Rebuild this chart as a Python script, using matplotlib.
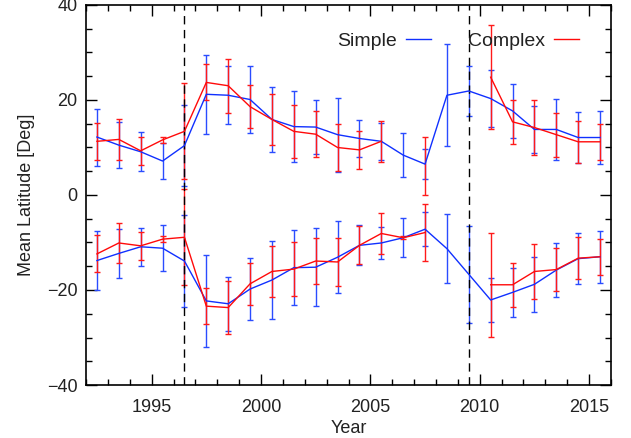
import numpy as np
import matplotlib
matplotlib.use('Agg')
import matplotlib.pyplot as plt
from matplotlib.ticker import MultipleLocator

plt.rcParams['font.family'] = ['Liberation Sans', 'DejaVu Sans']

nan = np.nan
years = np.arange(1992.5, 2016.0, 1.0)

# northern hemisphere, simple / complex
simple_n = [12.2, 10.5, 9.1, 7.15, 10.4, 21.2, 21.0, 20.1, 15.9, 14.4, 14.3, 12.7,
            11.9, 11.3, 8.4, 6.5, 21.0, 21.9, 20.3, 17.7, 13.8, 13.8, 12.1, 12.1]
simple_n_err = [6.0, 4.8, 4.1, 3.8, 8.6, 8.3, 6.1, 7.0, 6.9, 7.4, 5.7, 7.8,
                3.8, 3.9, 4.7, 3.2, 10.7, 5.3, 6.0, 5.7, 5.0, 6.5, 5.4, 5.6]
complex_n = [11.3, 11.7, 9.3, 11.6, 13.4, 23.7, 23.0, 18.6, 15.9, 13.4, 12.8, 10.0,
             9.5, 11.3, nan, 6.1, nan, nan, 24.8, 15.4, 14.2, 12.7, 11.2, 11.2]
complex_n_err = [3.9, 4.3, 3.0, 0.65, 10.1, 3.8, 5.7, 4.5, 5.3, 5.6, 4.9, 5.0,
                 4.0, 4.3, nan, 6.1, nan, nan, 11.0, 4.7, 5.8, 4.6, 4.4, 3.8]

# southern hemisphere, simple / complex
simple_s = [-13.8, -12.3, -10.9, -11.2, -13.9, -22.3, -22.9, -19.8, -17.9, -15.3, -15.2, -13.1,
            -10.6, -10.1, -9.0, -7.2, -11.3, -16.7, -22.1, -20.5, -18.8, -15.8, -13.4, -13.0]
simple_s_err = [6.2, 5.2, 4.0, 4.9, 9.6, 9.7, 5.7, 6.5, 8.3, 7.9, 8.2, 7.6,
                4.2, 3.4, 4.1, 3.6, 7.3, 10.2, 4.7, 5.2, 5.8, 5.7, 5.4, 5.5]
complex_s = [-12.4, -10.1, -10.7, -9.3, -8.9, -23.4, -23.7, -18.7, -16.1, -15.6, -13.9, -14.1,
             -10.6, -8.1, -9.0, -7.9, nan, nan, -18.9, -18.9, -16.1, -15.7, -13.3, -13.0]
complex_s_err = [3.9, 4.2, 3.0, 0.7, 10.1, 3.8, 5.6, 4.4, 5.3, 5.6, 4.9, 5.0,
                 4.0, 4.4, 0.3, 6.1, nan, nan, 11.0, 4.6, 5.7, 4.6, 4.4, 3.8]

cycle_min = [1996.5, 2009.5]

fig = plt.figure(figsize=(6.31, 4.38), dpi=100)
ax = fig.add_axes([0.1363, 0.121, 0.832, 0.8676])

eb = dict(capsize=2.3, elinewidth=1.0, capthick=1.0, lw=1.0)
ax.errorbar(years, simple_n, yerr=simple_n_err, color='#1030ff', ecolor='#2a4cff', label='Simple', **eb)
ax.errorbar(years, complex_n, yerr=complex_n_err, color='#ff0a0a', ecolor='#ff1a1a', label='Complex', **eb)
ax.errorbar(years, simple_s, yerr=simple_s_err, color='#1030ff', ecolor='#2a4cff', **eb)
ax.errorbar(years, complex_s, yerr=complex_s_err, color='#ff0a0a', ecolor='#ff1a1a', **eb)

for yr in cycle_min:
    ax.axvline(yr, color='black', ls=(0, (6, 4)), lw=1.0)

ax.set_xlim(1992, 2016)
ax.set_ylim(-40, 40)
ax.xaxis.set_major_locator(MultipleLocator(5))
ax.xaxis.set_minor_locator(MultipleLocator(1))
ax.yaxis.set_major_locator(MultipleLocator(20))
ax.yaxis.set_minor_locator(MultipleLocator(5))
ax.tick_params(which='both', direction='in', top=True, right=True, labelsize=13, width=1.0,
               labelcolor='#222222')
ax.tick_params(which='major', length=8)
ax.tick_params(axis='x', which='major', pad=10)
ax.tick_params(axis='y', which='major', pad=6)
ax.tick_params(which='minor', length=4)
for s in ax.spines.values():
    s.set_linewidth(1.2)

ax.set_xlabel('Year', fontsize=13, labelpad=3, color='#222222')
ax.set_ylabel('Mean Latitude [Deg]', fontsize=13, labelpad=9, color='#222222')

handles, labels = ax.get_legend_handles_labels()
handles = [h[0] for h in handles]
leg = ax.legend(handles, labels, loc='center left', bbox_to_anchor=(0.445, 0.905), ncol=2,
                frameon=False, markerfirst=False, fontsize=14, handlelength=1.3,
                handletextpad=0.45, columnspacing=1.9)
for t in leg.get_texts():
    t.set_color('#222222')

fig.savefig('out.png', dpi=100)
